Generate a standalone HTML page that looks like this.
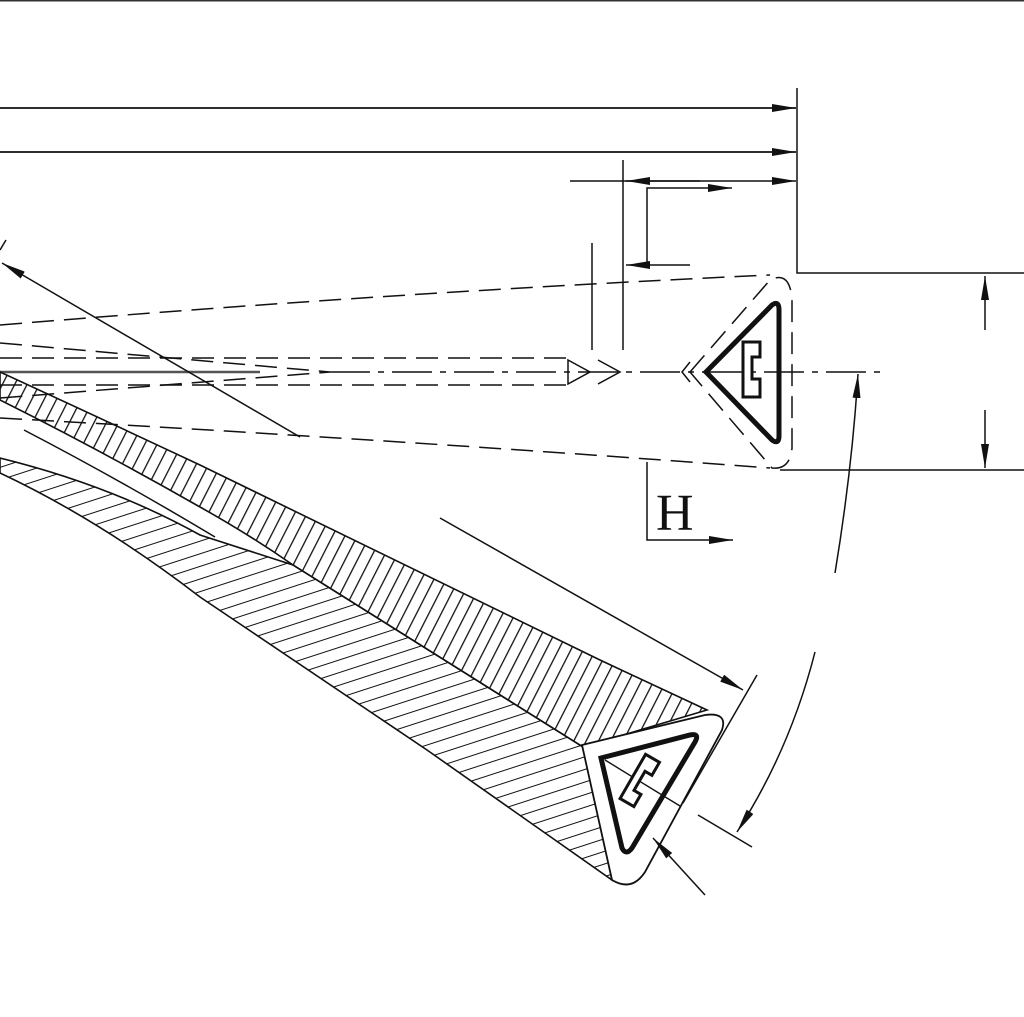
<!DOCTYPE html>
<html><head><meta charset="utf-8"><style>
html,body{margin:0;padding:0;background:#fff;width:1024px;height:1017px;overflow:hidden}
svg{display:block}
</style></head><body>
<svg width="1024" height="1017" viewBox="0 0 1024 1017" xmlns="http://www.w3.org/2000/svg">
<defs>
<marker id="ar" viewBox="0 0 24 8" refX="24" refY="4" markerWidth="24" markerHeight="8" markerUnits="userSpaceOnUse" orient="auto">
<path d="M0,0 L24,4 L0,8 Z" fill="#111"/></marker>
<pattern id="h1" width="11" height="11" patternUnits="userSpaceOnUse" patternTransform="rotate(27)">
<line x1="0" y1="0" x2="0" y2="11" stroke="#111" stroke-width="2.6"/></pattern>
<pattern id="h2" width="12" height="12" patternUnits="userSpaceOnUse" patternTransform="rotate(-18)">
<line x1="0" y1="0" x2="12" y2="0" stroke="#111" stroke-width="2"/></pattern>
</defs>
<rect x="0" y="0" width="1024" height="1.5" fill="#333"/>
<g fill="none" stroke="#111" stroke-width="1.5">
<line x1="0" y1="108" x2="796" y2="108" marker-end="url(#ar)" stroke-width="1.8"/>
<line x1="0" y1="152" x2="796" y2="152" marker-end="url(#ar)" stroke-width="1.8"/>
<polyline points="797,88 797,273 1024,273"/>
<line x1="780" y1="470" x2="1024" y2="470"/>
<line x1="985" y1="330" x2="985" y2="276" marker-end="url(#ar)"/>
<line x1="985" y1="410" x2="985" y2="468" marker-end="url(#ar)"/>
<line x1="570" y1="181" x2="796" y2="181" marker-end="url(#ar)"/>
<line x1="700" y1="181" x2="626" y2="181" marker-end="url(#ar)"/>
<line x1="623" y1="160" x2="623" y2="350"/>
<line x1="592" y1="243" x2="592" y2="350"/>
<polyline points="647,265 647,188 732,188" marker-end="url(#ar)"/>
<line x1="690" y1="265" x2="626" y2="265" marker-end="url(#ar)"/>
<g stroke-dasharray="22,10">
<path d="M0,325 Q400,292 770,275"/>
<path d="M0,418 Q400,440 770,468"/>
<line x1="0" y1="358" x2="570" y2="358"/>
<line x1="0" y1="385" x2="570" y2="385"/>
<path d="M0,343 L330,372 L0,398"/>
<path d="M690,372 L770,280 Q790,270 792,300 L792,448 Q790,470 772,468 Z"/>
</g>
<line x1="0" y1="372" x2="260" y2="372" stroke-width="2.5" stroke="#555"/>
<line x1="330" y1="372" x2="880" y2="372" stroke-dasharray="40,8,6,8"/>
<path d="M568,360 L590,372 L568,384 Z"/>
<path d="M598,360 L620,372 L598,384"/>
<path d="M690,362 L682,372 L690,382"/>
<path d="M706,372 L772,305 Q779,300 779,310 L779,436 Q779,445 772,440 Z" stroke-width="5"/>
<path d="M743,342 H760 V357 H752 V379 H760 V397 H743 Z" stroke-width="3" fill="#fff"/>
<line x1="300" y1="437" x2="2" y2="263" marker-end="url(#ar)"/>
<line x1="0" y1="250" x2="6" y2="240"/>
<polyline points="647,462 647,540 733,540" marker-end="url(#ar)"/>
</g>
<text x="656" y="530" font-family="Liberation Serif, serif" font-size="52" fill="#111">H</text>
<path d="M0,372 Q100,418 200,465 Q400,562 600,660 L707,710 L583,747 L293,565 Q250,535 200,507 Q100,450 0,400 Z" fill="url(#h1)" stroke="#111" stroke-width="1.6"/>
<path d="M0,458 Q110,485 200,535 L293,565 L583,747 L612,880 Q520,815 427,750 Q300,665 200,597 Q100,520 0,473 Z" fill="url(#h2)" stroke="#111" stroke-width="1.6"/>
<path d="M24,430 Q120,480 215,537" fill="none" stroke="#111" stroke-width="1.5"/>
<g fill="none" stroke="#111">
<path d="M582,745 L705,715 Q728,712 722,730 L645,872 Q632,892 612,880 Z" fill="#fff" stroke-width="1.8"/>
<path d="M601,758 L690,735 Q700,733 695,742 L632,848 Q626,856 622,848 Z" stroke-width="5"/>
<line x1="605" y1="760" x2="680" y2="806" stroke-width="1.4"/>
<g transform="rotate(30 640 780)">
<path d="M632,755 H648 V770 H640 V792 H648 V806 H632 Z" stroke-width="3" fill="#fff"/>
</g>
<line x1="440" y1="518" x2="743" y2="690" marker-end="url(#ar)" stroke-width="1.5"/>
<line x1="757" y1="675" x2="683" y2="803" stroke-width="1.5"/>
<line x1="698" y1="815" x2="752" y2="847" stroke-width="1.5"/>
<line x1="705" y1="895" x2="653" y2="838" marker-end="url(#ar)" stroke-width="1.5"/>
<path d="M835,573 Q852,470 858,374" marker-end="url(#ar)" stroke-width="1.5"/>
<path d="M815,652 Q790,750 737,832" marker-end="url(#ar)" stroke-width="1.5"/>
</g>
</svg>
</body></html>
